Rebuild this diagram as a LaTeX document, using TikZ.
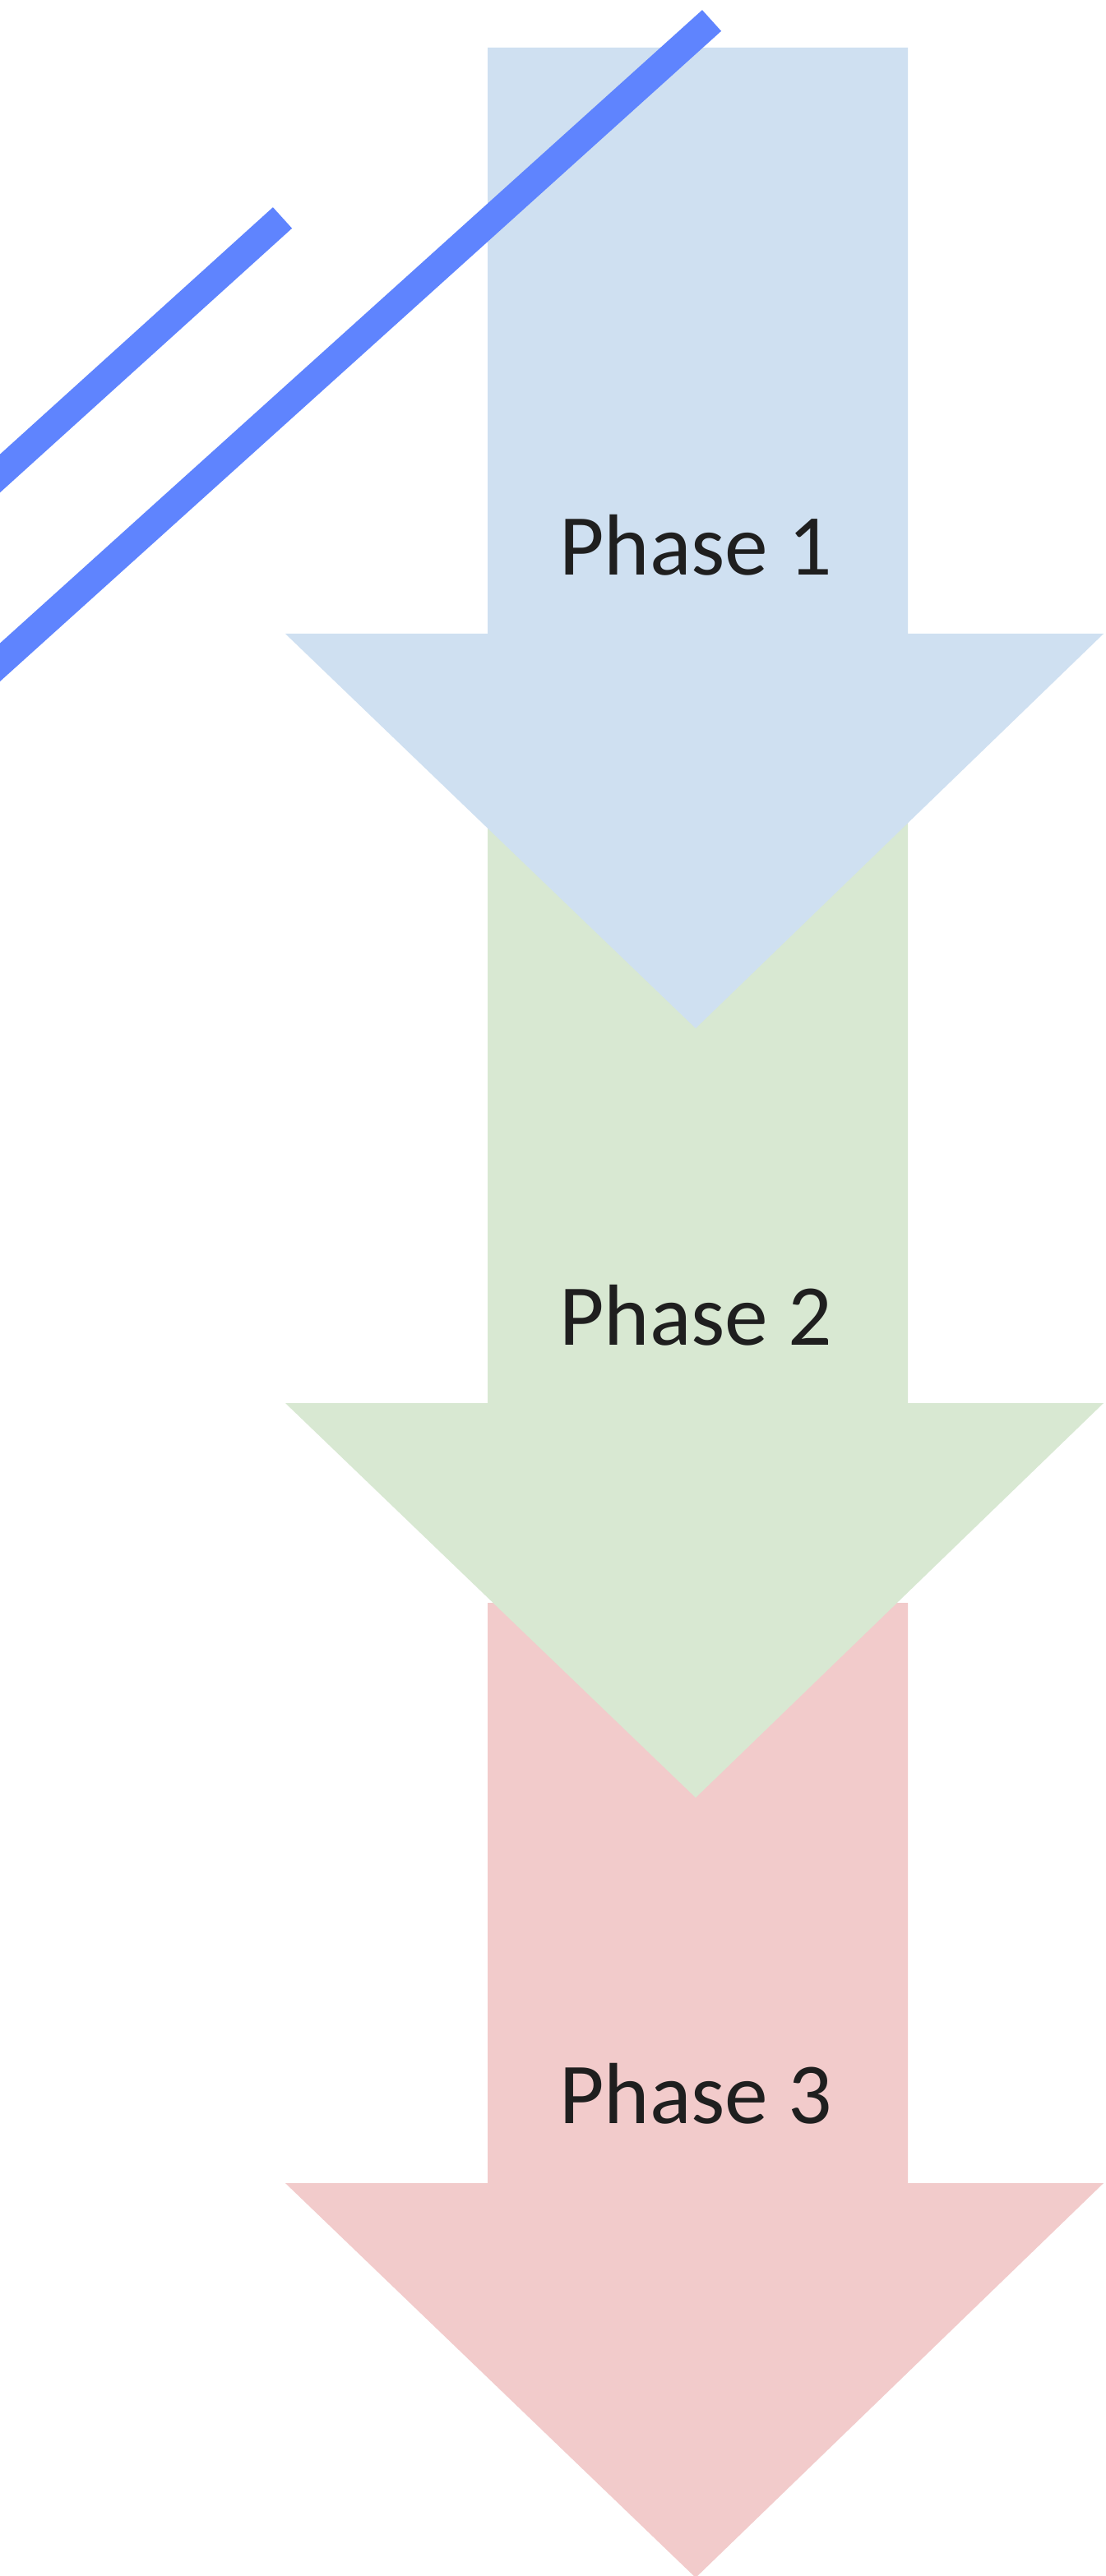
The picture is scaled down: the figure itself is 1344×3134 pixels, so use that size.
\documentclass[tikz,border=0pt]{standalone}
\usepackage{fontspec}
\setmainfont{Carlito}
\definecolor{phaseblue}{HTML}{CFE0F1}
\definecolor{phasegreen}{HTML}{D8E8D2}
\definecolor{phasepink}{HTML}{F2CBCB}
\definecolor{slashblue}{HTML}{5F84FE}
\newcommand\phasearrow[3]{%
  \fill[#1] (593,#2) -- (1104,#2) -- (1104,#3) -- (1342,#3) -- (846,{#3+480}) -- (347,#3) -- (593,#3) -- cycle;}
\begin{document}
\begin{tikzpicture}[x=0.01cm,y=-0.01cm,
  phaselabel/.style={anchor=base, font=\fontsize{30}{36}\selectfont, text=black!88, inner sep=0pt},
  slash/.style={line width=0.345cm, draw=slashblue, line cap=butt}]
\useasboundingbox (0,0) rectangle (1344,3134);
\clip (0,0) rectangle (1344,3134);
\fill[white] (0,0) rectangle (1344,3134);
% arrows, last phase at the back
\phasearrow{phasepink}{1950}{2656}
\phasearrow{phasegreen}{1000}{1707}
\phasearrow{phaseblue}{58}{771}
% labels
\node[phaselabel] (p1) at (846,700) {Phase 1};
\node[phaselabel] (p2) at (846,1636) {Phase 2};
\node[phaselabel] (p3) at (846,2583) {Phase 3};
% slash marks
\coordinate (s1a) at (-100,666.5);
\coordinate (s1b) at (343.5,265);
\coordinate (s2a) at (-100,896);
\coordinate (s2b) at (865.5,25);
\draw[slash] (s1a) -- (s1b);
\draw[slash] (s2a) -- (s2b);
\end{tikzpicture}
\end{document}
